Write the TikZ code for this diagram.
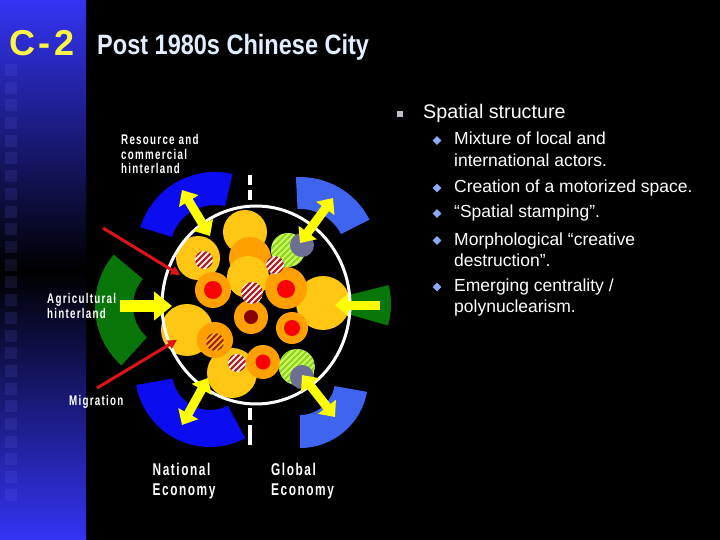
\documentclass[tikz,border=0pt]{standalone}
\usepackage{fontspec}
\setmainfont{Liberation Sans}
\newfontfamily\narrowfont{Liberation Sans}[FakeStretch=0.7,LetterSpace=9]
\newfontfamily\headfont{Liberation Sans}[FakeStretch=0.84]
\newfontfamily\codefont{Liberation Sans}[LetterSpace=10]
\usetikzlibrary{arrows.meta,shapes.geometric}
\definecolor{bandblue}{RGB}{52,52,245}
\definecolor{codeyellow}{RGB}{250,245,70}
\definecolor{headwhite}{RGB}{225,238,255}
\definecolor{darkblue}{RGB}{12,12,240}
\definecolor{lightblue}{RGB}{62,100,240}
\definecolor{farmgreen}{RGB}{8,118,8}
\definecolor{cityyellow}{RGB}{255,198,20}
\definecolor{cityorange}{RGB}{255,160,0}
\definecolor{cityred}{RGB}{250,0,0}
\definecolor{deepred}{RGB}{135,0,0}
\definecolor{stripered}{RGB}{175,35,35}
\definecolor{limebg}{RGB}{205,245,100}
\definecolor{limestripe}{RGB}{140,215,30}
\definecolor{slategrey}{RGB}{108,110,150}
\definecolor{flowyellow}{RGB}{255,255,0}
\definecolor{migred}{RGB}{225,20,20}
\definecolor{bulletgrey}{RGB}{190,190,205}
\definecolor{bulletblue}{RGB}{140,170,245}
% ring piece: colour, cx, cy, start, end, inner r, outer r
\newcommand{\ringpiece}[7]{%
  \fill[#1] ([shift={(#4:#7)}]#2,#3) arc[start angle=#4, end angle=#5, radius=#7]
    -- ([shift={(#5:#6)}]#2,#3) arc[start angle=#5, end angle=#4, radius=#6] -- cycle;}
% striped dot: x, y, r, ground, stripe, width
\newcommand{\stripedot}[6]{%
  \begin{scope}
    \clip (#1,#2) circle[radius=#3];
    \fill[#4] (#1,#2) circle[radius=#3];
    \foreach \d in {-30,-24,...,30}
      \draw[#5, line width=#6] (#1+\d-#3,#2+#3) -- (#1+\d+#3,#2-#3);
  \end{scope}}
\tikzset{
  flowarrow/.style={draw=flowyellow, line width=9pt, -{Triangle[length=13pt,width=22pt]}},
  swaparrow/.style={draw=flowyellow, line width=9pt, {Triangle[length=13pt,width=22pt]}-{Triangle[length=13pt,width=22pt]}},
  inarrow/.style={draw=flowyellow, line width=12pt, -{Triangle[length=18pt,width=28pt]}},
  migarrow/.style={draw=migred, line width=3pt, -{Triangle[length=9pt,width=9pt]}},
  maplabel/.style={text=white, anchor=base west, inner sep=0pt, font=\narrowfont\bfseries\fontsize{14}{15}\selectfont},
  ecolabel/.style={maplabel, font=\narrowfont\bfseries\fontsize{17}{20}\selectfont},
  itemtext/.style={text=white, anchor=base west, inner sep=0pt, font=\fontsize{17.5}{21}\selectfont},
  itemdia/.style={diamond, fill=bulletblue, inner sep=0pt, minimum width=9pt, minimum height=9pt}
}
\begin{document}
\begin{tikzpicture}[x=1pt,y=-1pt]
\useasboundingbox (0,0) rectangle (720,540);
\fill[black] (0,0) rectangle (720,540);
% side band
\shade[top color=bandblue, bottom color=bandblue, middle color=black] (0,0) rectangle (86,540);
\foreach \i in {0,...,24}
  \fill[bandblue!70!white, opacity=0.13] (5,64+17.7*\i) rectangle ++(12,12);
% title
\node[anchor=base west, inner sep=0pt, text=codeyellow, font=\codefont\bfseries\fontsize{36}{40}\selectfont] (code) at (9,56) {C-2};
\node[anchor=base west, inner sep=0pt, text=headwhite, font=\headfont\bfseries\fontsize{28}{32}\selectfont] (head) at (97,55) {Post 1980s Chinese City};
% hinterlands
\ringpiece{darkblue}{215}{250}{-77}{-163}{45}{78}
\ringpiece{lightblue}{300}{255}{-27}{-93}{46}{78}
\ringpiece{farmgreen}{175}{306}{-140}{-228}{42}{80}
\ringpiece{farmgreen}{313}{304}{16}{-14}{30}{78}
\ringpiece{darkblue}{210}{372}{-190}{-298}{38}{75}
\ringpiece{lightblue}{300}{380}{-270}{-350}{35}{68}
% city cells
\fill[cityyellow] (245,232) circle[radius=22];
\fill[cityorange] (250,258) circle[radius=21];
\fill[cityyellow] (248,277) circle[radius=21];
\fill[cityyellow] (198,258) circle[radius=22];
\fill[cityyellow] (187,330) circle[radius=26];
\fill[cityorange] (213,290) circle[radius=18];
\fill[cityred] (213,290) circle[radius=9];
\stripedot{204}{260}{9}{white}{stripered}{2.2pt}
\fill[cityorange] (251,317) circle[radius=17];
\fill[deepred] (251,317) circle[radius=7];
\stripedot{252}{293}{11}{white}{stripered}{2.2pt}
\fill[cityyellow] (323,303) circle[radius=27];
\stripedot{288}{250}{17}{limebg}{limestripe}{1.8pt}
\fill[slategrey] (302,245) circle[radius=12];
\fill[cityorange] (286,288) circle[radius=21];
\fill[cityred] (286,289) circle[radius=9];
\stripedot{275}{265}{9}{white}{stripered}{2.2pt}
\fill[cityorange] (292,328) circle[radius=16];
\fill[cityred] (292,328) circle[radius=8];
\fill[cityyellow] (232,373) circle[radius=25];
\fill[cityorange] (215,340) circle[radius=18];
\stripedot{215}{342}{9}{cityyellow}{stripered}{2.2pt}
\stripedot{237}{363}{9}{white}{stripered}{2.2pt}
\fill[cityorange] (263,362) circle[radius=17];
\fill[cityred] (263,362) circle[radius=7.5];
\stripedot{297}{367}{18}{limebg}{limestripe}{1.8pt}
\fill[slategrey] (302,377) circle[radius=12];
% city edge and divide
\draw[white, line width=3pt] (256,305) ellipse[x radius=94, y radius=99];
\draw[white, line width=4pt, dash pattern=on 10pt off 5pt] (250,175) -- (250,202);
\draw[white, line width=4pt, dash pattern=on 12pt off 5pt on 20pt off 5pt] (250,408) -- (250,445);
% flows
\coordinate (resOut) at (182,190);
\coordinate (resIn) at (210,236);
\coordinate (gloOutA) at (333,198);
\coordinate (gloInA) at (300,243);
\coordinate (natIn) at (208,378);
\coordinate (natOut) at (182,425);
\coordinate (gloInB) at (302,375);
\coordinate (gloOutB) at (335,417);
\coordinate (agrOut) at (120,306);
\coordinate (agrIn) at (172,306);
\coordinate (eastOut) at (380,305);
\coordinate (eastIn) at (335,305);
\draw[swaparrow] (resOut) -- (resIn);
\draw[swaparrow] (gloOutA) -- (gloInA);
\draw[swaparrow] (natIn) -- (natOut);
\draw[swaparrow] (gloInB) -- (gloOutB);
\draw[inarrow] (agrOut) -- (agrIn);
\draw[flowarrow] (eastOut) -- (eastIn);
\coordinate (migA) at (103,228);
\coordinate (migAend) at (180,275);
\coordinate (migB) at (97,388);
\coordinate (migBend) at (177,340);
\draw[migarrow] (migA) -- (migAend);
\draw[migarrow] (migB) -- (migBend);
% map labels
\node[maplabel] (res1) at (121,145) {Resource and};
\node[maplabel] (res2) at (121,159.5) {commercial};
\node[maplabel] (res3) at (121,174) {hinterland};
\node[maplabel] (agr1) at (47,303) {Agricultural};
\node[maplabel] (agr2) at (47,318) {hinterland};
\node[maplabel] (mig) at (69,405.5) {Migration};
\node[ecolabel] (nat1) at (152.5,475) {National};
\node[ecolabel] (nat2) at (152.5,495) {Economy};
\node[ecolabel] (glo1) at (271,475) {Global};
\node[ecolabel] (glo2) at (271,495) {Economy};
% bullet list
\fill[bulletgrey] (397,111) rectangle (403,117);
\node[itemtext, font=\fontsize{19.7}{24}\selectfont] (topic) at (423,119) {Spatial structure};
\node[itemdia] (d1) at (437,140.5) {};
\node[itemtext] (i1a) at (454,145) {Mixture of local and};
\node[itemtext] (i1b) at (454,166.5) {international actors.};
\node[itemdia] (d2) at (437,188) {};
\node[itemtext] (i2) at (454,192.7) {Creation of a motorized space.};
\node[itemdia] (d3) at (437,213.5) {};
\node[itemtext] (i3) at (454,218) {“Spatial stamping”.};
\node[itemdia] (d4) at (437,240.5) {};
\node[itemtext] (i4a) at (454,245) {Morphological “creative};
\node[itemtext] (i4b) at (454,266) {destruction”.};
\node[itemdia] (d5) at (437,287) {};
\node[itemtext] (i5a) at (454,291.7) {Emerging centrality /};
\node[itemtext] (i5b) at (454,312.7) {polynuclearism.};
\end{tikzpicture}
\end{document}
